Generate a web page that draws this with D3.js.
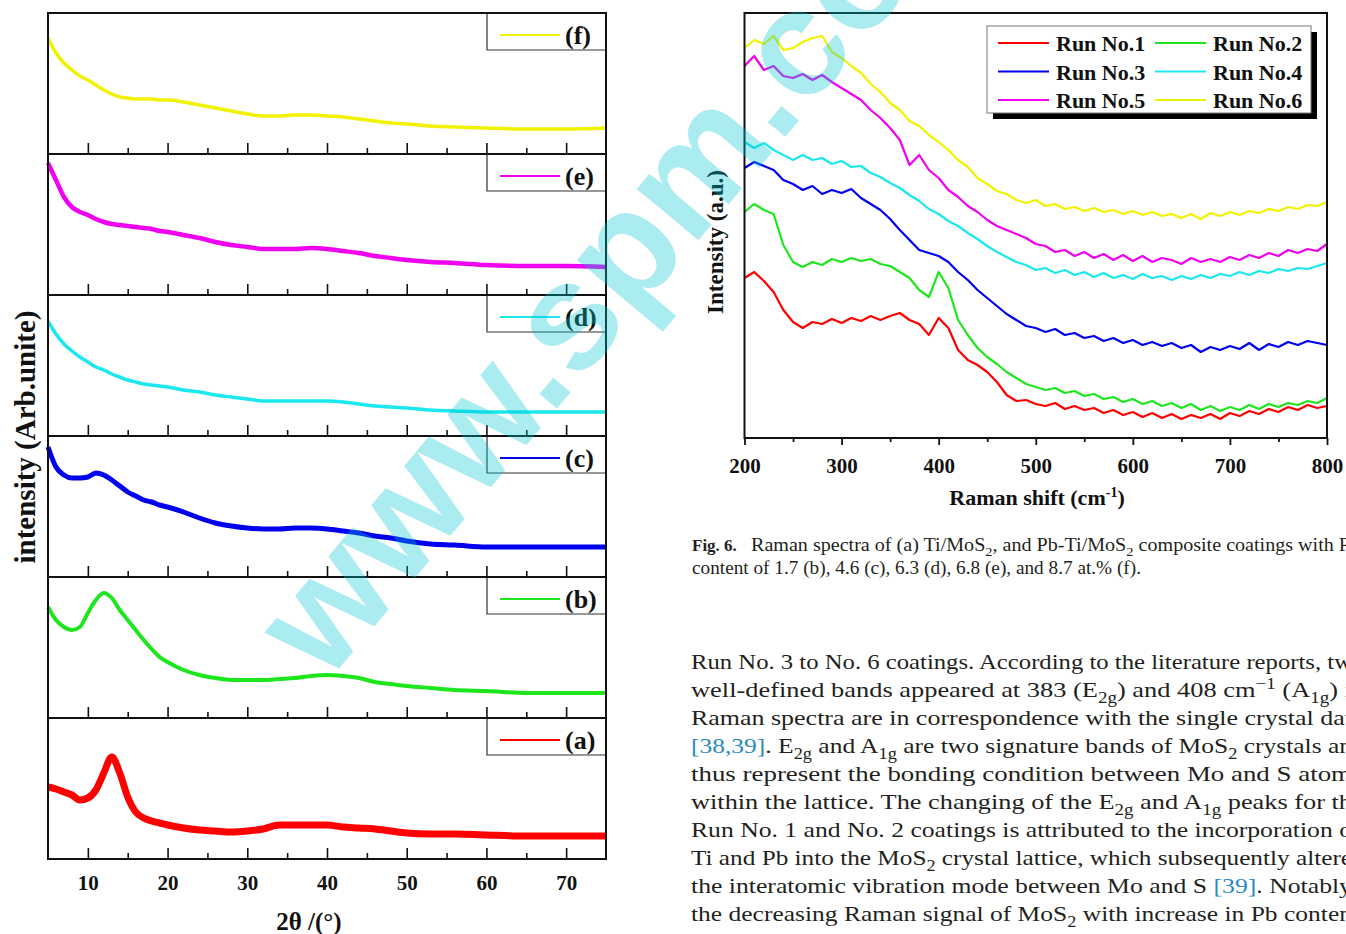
<!DOCTYPE html>
<html>
<head>
<meta charset="utf-8">
<script src="https://cdn.jsdelivr.net/npm/d3@7"></script>
<style>
  html, body { margin: 0; padding: 0; background: #fff; }
  svg { display: block; }
</style>
</head>
<body>
<svg id="page" width="1346" height="934"></svg>
<script>
// ---------- XRD (left figure), panels (a)..(f) ----------
const xrdAngle = [5, 6, 7, 8, 9, 10, 11, 12, 13, 14, 15, 16, 17, 18, 19, 20,
  22, 24, 26, 28, 30, 32, 34, 36, 38, 40, 42, 44, 46, 48, 50,
  53, 56, 60, 65, 70, 75];
const xrdA = [72, 70, 67, 64, 59, 61, 69, 86, 102, 86, 62, 47, 41, 38, 36, 34,
  31, 29, 28, 27, 28, 30, 34, 34, 34, 34, 32, 31, 30, 28, 26,
  25, 25, 24, 23, 23, 23];
const xrdB = [111, 98, 91, 88, 91, 105, 118, 125, 120, 108, 98, 88, 78, 69, 61, 56,
  48, 43, 40, 38, 38, 38, 39, 40, 42, 43, 42, 40, 36, 34, 32,
  30, 28, 27, 25, 25, 25];
const xrdC = [130, 110, 102, 99, 99, 100, 104, 102, 97, 91, 85, 81, 77, 75, 72, 70,
  65, 59, 54, 51, 49, 48, 48, 49, 49, 48, 46, 44, 41, 39, 36,
  33, 32, 30, 30, 30, 30];
const xrdD = [115, 102, 92, 85, 79, 74, 69, 66, 62, 59, 56, 54, 52, 51, 50, 49,
  46, 44, 41, 39, 37, 35, 35, 35, 35, 35, 34, 32, 30, 29, 28,
  26, 25, 24, 24, 24, 24];
const xrdE = [132, 115, 98, 88, 83, 80, 76, 73, 71, 70, 69, 68, 67, 66, 64, 63,
  60, 57, 53, 50, 48, 46, 46, 46, 47, 46, 44, 42, 39, 37, 35,
  33, 32, 30, 29, 29, 28];
const xrdF = [116, 101, 91, 84, 78, 74, 69, 64, 60, 57, 56, 55, 55, 55, 54, 54,
  52, 49, 46, 43, 40, 38, 38, 39, 39, 38, 37, 35, 33, 31, 30,
  28, 27, 26, 25, 25, 26];
const xrdMajorTicks = [10, 20, 30, 40, 50, 60, 70];
const xrdMinorTicks = [15, 25, 35, 45, 55, 65];

// ---------- Raman (right figure) ----------
const ramanShift = d3.range(200, 801, 10);
const run1 = [160, 166, 157, 146, 128, 116, 110, 116, 114, 119,
  115, 120, 117, 122, 118, 122, 125, 118, 114, 103,
  120, 110, 88, 78, 73, 66, 56, 43, 37, 38,
  34, 32, 35, 29, 32, 28, 30, 25, 28, 23,
  26, 21, 25, 20, 24, 19, 23, 20, 24, 19,
  25, 22, 27, 24, 29, 26, 31, 28, 33, 30, 32];
const run2 = [226, 234, 228, 224, 193, 176, 171, 176, 173, 179,
  176, 180, 177, 179, 174, 172, 166, 160, 148, 141,
  166, 150, 118, 103, 90, 81, 74, 66, 60, 54,
  51, 48, 50, 45, 47, 42, 44, 39, 41, 36,
  39, 34, 37, 32, 35, 30, 34, 28, 32, 27,
  31, 28, 33, 29, 34, 31, 35, 33, 37, 35, 40];
const run3 = [270, 276, 272, 268, 258, 254, 248, 252, 244, 248,
  245, 249, 240, 234, 228, 219, 208, 198, 188, 185,
  182, 176, 166, 158, 148, 140, 132, 124, 118, 112,
  110, 106, 109, 103, 105, 100, 102, 97, 100, 95,
  98, 93, 96, 92, 95, 90, 93, 86, 91, 88,
  92, 89, 95, 88, 94, 91, 96, 93, 97, 95, 93];
const run4 = [296, 290, 295, 288, 283, 278, 283, 278, 280, 274,
  277, 271, 272, 265, 261, 255, 250, 243, 237, 229,
  224, 217, 212, 205, 199, 192, 186, 181, 176, 173,
  168, 170, 165, 168, 163, 166, 161, 165, 160, 163,
  159, 164, 160, 162, 158, 162, 159, 163, 160, 164,
  162, 166, 163, 167, 165, 169, 167, 170, 169, 172, 175];
const run5 = [372, 382, 368, 372, 362, 360, 364, 358, 363, 356,
  350, 344, 338, 328, 320, 310, 298, 273, 283, 268,
  260, 248, 241, 232, 226, 218, 212, 208, 204, 200,
  194, 192, 186, 188, 182, 186, 180, 184, 178, 183,
  177, 182, 176, 180, 178, 174, 180, 176, 179, 176,
  181, 178, 183, 180, 185, 182, 188, 185, 189, 187, 194];
const run6 = [390, 398, 394, 402, 388, 390, 396, 400, 402, 386,
  380, 372, 365, 354, 346, 335, 328, 317, 312, 303,
  296, 288, 278, 271, 260, 254, 247, 244, 238, 235,
  238, 232, 234, 229, 231, 227, 230, 226, 228, 224,
  227, 223, 226, 222, 224, 220, 224, 219, 225, 222,
  226, 223, 227, 225, 229, 227, 231, 229, 233, 232, 236];
const runNames = ['Run No.1', 'Run No.2', 'Run No.3', 'Run No.4', 'Run No.5', 'Run No.6'];
const ramanMajorTicks = [200, 300, 400, 500, 600, 700, 800];
const ramanMinorTicks = [250, 350, 450, 550, 650, 750];

const RED = '#ff0000', GREEN = '#1ee61e', BLUE = '#0000ee',
      CYAN = '#1ae8ee', MAGENTA = '#f000f0', YELLOW = '#f2f200';
const serif = '"Liberation Serif", "Times New Roman", serif';

const svg = d3.select('#page');

// ================= left: stacked XRD panels =================
const xrdSeries = [
  { label: '(f)', values: xrdF, color: YELLOW,  width: 3.5 },
  { label: '(e)', values: xrdE, color: MAGENTA, width: 4.5 },
  { label: '(d)', values: xrdD, color: CYAN,    width: 3.5 },
  { label: '(c)', values: xrdC, color: BLUE,    width: 5 },
  { label: '(b)', values: xrdB, color: GREEN,   width: 4 },
  { label: '(a)', values: xrdA, color: RED,     width: 7 },
];
const L = { left: 48, right: 606, top: 13, panelH: 141 };
const xX = d3.scaleLinear().domain([5, 75]).range([L.left, L.right]);

xrdSeries.forEach((s, i) => {
  const top = L.top + i * L.panelH;
  const y = d3.scaleLinear().domain([0, 141]).range([top + L.panelH, top]);
  const line = d3.line().x((d, k) => xX(xrdAngle[k])).y(d => y(d)).curve(d3.curveMonotoneX);

  svg.append('path').datum(s.values)
    .attr('fill', 'none').attr('stroke', s.color)
    .attr('stroke-width', s.width).attr('stroke-linejoin', 'round')
    .attr('d', line);

  // inward ticks on the bottom edge of each panel
  const bottom = top + L.panelH;
  [[xrdMajorTicks, 11], [xrdMinorTicks, 6]].forEach(([vals, len]) => {
    svg.append('g').attr('transform', `translate(0,${bottom})`)
      .call(d3.axisTop(xX).tickValues(vals).tickSize(len).tickFormat(''))
      .call(a => a.select('.domain').remove())
      .call(a => a.selectAll('line').attr('stroke', '#111').attr('stroke-width', 1.6));
  });

  // legend box in the top-right corner
  const bx = 487;
  svg.append('path')
    .attr('d', `M${bx},${top}V${top + 37}H${L.right}`)
    .attr('fill', 'none').attr('stroke', '#333').attr('stroke-width', 1.2);
  svg.append('line')
    .attr('x1', 500).attr('x2', 560).attr('y1', top + 22).attr('y2', top + 22)
    .attr('stroke', s.color).attr('stroke-width', 2);
  svg.append('text')
    .attr('x', 565).attr('y', top + 31)
    .attr('font-family', serif).attr('font-weight', 'bold').attr('font-size', 26)
    .attr('fill', '#111').text(s.label);
});

// frame and panel separators
svg.append('rect')
  .attr('x', L.left).attr('y', L.top)
  .attr('width', L.right - L.left).attr('height', L.panelH * 6)
  .attr('fill', 'none').attr('stroke', '#111').attr('stroke-width', 2);
d3.range(1, 6).forEach(k => {
  svg.append('line')
    .attr('x1', L.left).attr('x2', L.right)
    .attr('y1', L.top + k * L.panelH).attr('y2', L.top + k * L.panelH)
    .attr('stroke', '#111').attr('stroke-width', 2);
});

// bottom tick labels
svg.append('g').attr('transform', `translate(0,${L.top + 6 * L.panelH})`)
  .call(d3.axisBottom(xX).tickValues(xrdMajorTicks).tickSize(0).tickPadding(16))
  .call(a => a.select('.domain').remove())
  .call(a => a.selectAll('text')
    .attr('font-family', serif).attr('font-weight', 'bold').attr('font-size', 21).attr('fill', '#111'));

svg.append('text')
  .attr('x', 309).attr('y', 930).attr('text-anchor', 'middle')
  .attr('font-family', serif).attr('font-weight', 'bold').attr('font-size', 25).attr('fill', '#111')
  .text('2θ /(°)');

svg.append('text')
  .attr('transform', 'translate(35,437) rotate(-90)').attr('text-anchor', 'middle')
  .attr('font-family', serif).attr('font-weight', 'bold').attr('font-size', 29).attr('fill', '#111')
  .text('intensity (Arb.unite)');

// ================= right: Raman spectra =================
const R = { left: 744.5, right: 1327, top: 13, bottom: 438 };
const rX = d3.scaleLinear().domain([200, 800]).range([R.left, R.right]);
const rY = d3.scaleLinear().domain([0, 425]).range([R.bottom, R.top]);
const runs = [
  { name: runNames[0], values: run1, color: RED },
  { name: runNames[1], values: run2, color: GREEN },
  { name: runNames[2], values: run3, color: BLUE },
  { name: runNames[3], values: run4, color: CYAN },
  { name: runNames[4], values: run5, color: MAGENTA },
  { name: runNames[5], values: run6, color: YELLOW },
];
const rLine = d3.line().x((d, k) => rX(ramanShift[k])).y(d => rY(d));

runs.forEach(r => {
  svg.append('path').datum(r.values)
    .attr('fill', 'none').attr('stroke', r.color)
    .attr('stroke-width', 2.2).attr('stroke-linejoin', 'round')
    .attr('d', rLine);
});

svg.append('rect')
  .attr('x', R.left).attr('y', R.top)
  .attr('width', R.right - R.left).attr('height', R.bottom - R.top)
  .attr('fill', 'none').attr('stroke', '#111').attr('stroke-width', 2);

svg.append('g').attr('transform', `translate(0,${R.bottom})`)
  .call(d3.axisBottom(rX).tickValues(ramanMajorTicks).tickSize(7).tickPadding(13))
  .call(a => a.select('.domain').remove())
  .call(a => a.selectAll('line').attr('stroke', '#111').attr('stroke-width', 1.8))
  .call(a => a.selectAll('text')
    .attr('font-family', serif).attr('font-weight', 'bold').attr('font-size', 21).attr('fill', '#111'));
svg.append('g').attr('transform', `translate(0,${R.bottom})`)
  .call(d3.axisBottom(rX).tickValues(ramanMinorTicks).tickSize(4).tickFormat(''))
  .call(a => a.select('.domain').remove())
  .call(a => a.selectAll('line').attr('stroke', '#111').attr('stroke-width', 1.8));

const rTitle = svg.append('text')
  .attr('x', 1037).attr('y', 505).attr('text-anchor', 'middle')
  .attr('font-family', serif).attr('font-weight', 'bold').attr('font-size', 22).attr('fill', '#111');
rTitle.append('tspan').text('Raman shift (cm');
rTitle.append('tspan').attr('dy', -8).attr('font-size', 14).text('-1');
rTitle.append('tspan').attr('dy', 8).text(')');

svg.append('text')
  .attr('transform', 'translate(723,242) rotate(-90)').attr('text-anchor', 'middle')
  .attr('font-family', serif).attr('font-weight', 'bold').attr('font-size', 23).attr('fill', '#111')
  .text('Intensity (a.u.)');

// legend with drop shadow
const lg = { x: 987, y: 26, w: 324, h: 87 };
svg.append('rect').attr('x', lg.x + 6).attr('y', lg.y + 6).attr('width', lg.w).attr('height', lg.h).attr('fill', '#000');
svg.append('rect').attr('x', lg.x).attr('y', lg.y).attr('width', lg.w).attr('height', lg.h)
  .attr('fill', '#fff').attr('stroke', '#777').attr('stroke-width', 1);
runs.forEach((r, i) => {
  const col = i % 2, row = Math.floor(i / 2);
  const cy = 43 + row * 28.5;
  const lx = col === 0 ? 998 : 1155;
  svg.append('line').attr('x1', lx).attr('x2', lx + 51).attr('y1', cy).attr('y2', cy)
    .attr('stroke', r.color).attr('stroke-width', 2);
  svg.append('text').attr('x', lx + 58).attr('y', cy + 8)
    .attr('font-family', serif).attr('font-weight', 'bold').attr('font-size', 22).attr('fill', '#111')
    .text(r.name);
});

// ================= caption and body text =================
const capFig = 'Fig. 6.';
const capLine1 = [['Raman spectra of (a) Ti/MoS'], ['2', 'sub'], [', and Pb-Ti/MoS'], ['2', 'sub'], [' composite coatings with P']];
const capLine2 = [['content of 1.7 (b), 4.6 (c), 6.3 (d), 6.8 (e), and 8.7 at.% (f).']];
const bodyLines = [
  [['Run No. 3 to No. 6 coatings. According to the literature reports, tw']],
  [['well-defined bands appeared at 383 (E'], ['2g', 'sub'], [') and 408 cm'], ['−1', 'sup'], [' (A'], ['1g', 'sub'], [') i']],
  [['Raman spectra are in correspondence with the single crystal dat']],
  [['[38,39]', 'link'], ['. E'], ['2g', 'sub'], [' and A'], ['1g', 'sub'], [' are two signature bands of MoS'], ['2', 'sub'], [' crystals an']],
  [['thus represent the bonding condition between Mo and S atom']],
  [['within the lattice. The changing of the E'], ['2g', 'sub'], [' and A'], ['1g', 'sub'], [' peaks for th']],
  [['Run No. 1 and No. 2 coatings is attributed to the incorporation o']],
  [['Ti and Pb into the MoS'], ['2', 'sub'], [' crystal lattice, which subsequently altere']],
  [['the interatomic vibration mode between Mo and S '], ['[39]', 'link'], ['. Notably']],
  [['the decreasing Raman signal of MoS'], ['2', 'sub'], [' with increase in Pb conten']],
  [['is owing to shielding from the composite structure '], ['[39]', 'link'], ['. Based on']],
];

function writeLine(x, y, size, segs, length) {
  const t = svg.append('text').attr('x', x).attr('y', y)
    .attr('font-family', serif).attr('font-size', size).attr('fill', '#231f20');
  if (length) t.attr('textLength', length).attr('lengthAdjust', 'spacingAndGlyphs');
  let shift = 0;
  segs.forEach(([txt, kind]) => {
    const sp = t.append('tspan').text(txt);
    let target = 0;
    if (kind === 'sub') { target = size * 0.25; sp.attr('font-size', size * 0.72); }
    if (kind === 'sup') { target = -size * 0.38; sp.attr('font-size', size * 0.72); }
    if (kind === 'link') sp.attr('fill', '#2b8bc0');
    if (target !== shift) { sp.attr('dy', target - shift); shift = target; }
  });
  return t;
}

svg.append('text').attr('x', 692).attr('y', 551)
  .attr('font-family', serif).attr('font-weight', 'bold').attr('font-size', 17).attr('fill', '#231f20')
  .text(capFig);
writeLine(751, 551, 18, capLine1, 599);
writeLine(692, 574, 18, capLine2, 449);

bodyLines.forEach((segs, i) => {
  writeLine(691, 669 + i * 28, 22, segs, 661);
});

// ================= watermark =================
svg.append('text')
  .attr('transform', 'translate(326,684) rotate(-50)')
  .attr('font-family', '"Liberation Sans", Arial, sans-serif')
  .attr('font-weight', 'bold').attr('font-size', 152)
  .attr('fill', '#00c6d6').attr('fill-opacity', 0.33)
  .text('www.spm.com.cn');
</script>
</body>
</html>
